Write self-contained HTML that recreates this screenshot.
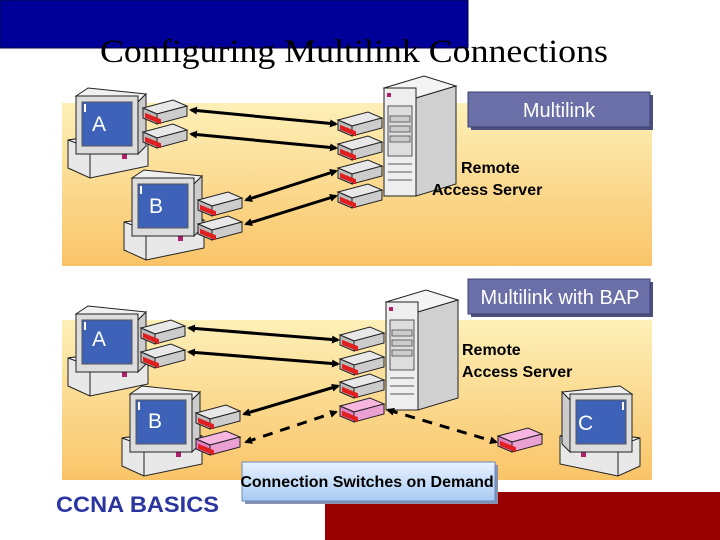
<!DOCTYPE html>
<html><head><meta charset="utf-8"><style>
html,body{margin:0;padding:0;background:#fff;width:720px;height:540px;overflow:hidden}
svg{display:block}
</style></head><body>
<svg width="720" height="540" viewBox="0 0 720 540" xmlns="http://www.w3.org/2000/svg" font-family="Liberation Sans, sans-serif">
<defs>
<linearGradient id="pg" x1="0" y1="0" x2="0" y2="1">
<stop offset="0" stop-color="#fdf0b8"/><stop offset="1" stop-color="#f9c468"/></linearGradient>
<linearGradient id="cb" x1="0" y1="0" x2="0" y2="1">
<stop offset="0" stop-color="#e8f2ff"/><stop offset="1" stop-color="#a8cbf3"/></linearGradient>
<g id="pc">
<!-- base -->
<polygon points="0,52 58,44 80,50 80,78 22,90 0,80" fill="#e8e8e8" stroke="#222" stroke-width="1"/>
<polygon points="0,52 58,44 80,50 22,60" fill="#f6f6f6" stroke="#222" stroke-width="1"/>
<line x1="22" y1="60" x2="22" y2="90" stroke="#222"/>
<rect x="54" y="66" width="5" height="5" fill="#b0206a"/>
<!-- monitor -->
<polygon points="8,8 20,0 78,6 70,14" fill="#f0f0f0" stroke="#222"/>
<polygon points="70,14 78,6 78,58 70,66" fill="#ccc" stroke="#222"/>
<rect x="8" y="8" width="62" height="58" fill="#ddd" stroke="#222"/>
<rect x="14" y="14" width="50" height="44" fill="#3d62b8" stroke="#555"/>
<rect x="16" y="16" width="2" height="8" fill="#fff"/>
</g>
<g id="md">
<polygon points="0,8 30,0 44,6 14,14" fill="#e8e8e8" stroke="#222"/>
<polygon points="0,8 14,14 14,24 0,18" fill="#bbb" stroke="#222"/>
<polygon points="14,14 44,6 44,16 14,24" fill="#ccc" stroke="#222"/>
<rect x="2" y="12" width="16" height="5" fill="#e02020" transform="skewY(22)" />
</g>
<g id="mdp">
<polygon points="0,8 30,0 44,6 14,14" fill="#f6b6e0" stroke="#222"/>
<polygon points="0,8 14,14 14,24 0,18" fill="#e080c0" stroke="#222"/>
<polygon points="14,14 44,6 44,16 14,24" fill="#eaa0d2" stroke="#222"/>
<rect x="2" y="12" width="16" height="5" fill="#e02020" transform="skewY(22)"/>
</g>
<g id="srv">
<polygon points="0,12 40,0 72,10 32,22" fill="#f4f4f4" stroke="#222"/>
<polygon points="32,22 72,10 72,108 32,120" fill="#d0d0d0" stroke="#222"/>
<rect x="0" y="12" width="32" height="108" fill="#eee" stroke="#222"/>
<rect x="4" y="30" width="24" height="50" fill="#ddd" stroke="#555"/>
<rect x="6" y="40" width="20" height="6" fill="#ccc" stroke="#666"/>
<rect x="6" y="50" width="20" height="6" fill="#ccc" stroke="#666"/>
<rect x="6" y="60" width="20" height="6" fill="#ccc" stroke="#666"/>
<line x1="4" y1="88" x2="28" y2="88" stroke="#555"/>
<line x1="4" y1="96" x2="28" y2="96" stroke="#555"/>
<line x1="4" y1="104" x2="28" y2="104" stroke="#555"/>
<rect x="3" y="17" width="4" height="4" fill="#b0206a"/>
</g>
<marker id="ah" markerWidth="8" markerHeight="8" refX="6" refY="4" orient="auto-start-reverse" markerUnits="userSpaceOnUse">
<path d="M0,0 L8,4 L0,8 z" fill="#000"/></marker>
</defs>

<rect x="0" y="0" width="468" height="48" fill="#000099" stroke="#000044"/>
<text x="354" y="62" text-anchor="middle" font-family="Liberation Serif, serif" font-size="33" fill="#000" textLength="508" lengthAdjust="spacingAndGlyphs">Configuring Multilink Connections</text>

<!-- panels -->
<rect x="62" y="103" width="590" height="163" fill="url(#pg)"/>
<rect x="62" y="320" width="590" height="160" fill="url(#pg)"/>

<!-- top diagram -->
<use href="#pc" x="68" y="88"/>
<text x="92" y="131" font-size="21" fill="#fff">A</text>
<use href="#md" x="143" y="100"/>
<use href="#md" x="143" y="124"/>
<use href="#pc" x="124" y="170"/>
<text x="149" y="213" font-size="21" fill="#fff">B</text>
<use href="#md" x="198" y="192"/>
<use href="#md" x="198" y="216"/>
<use href="#srv" x="384" y="76"/>
<use href="#md" x="338" y="112"/>
<use href="#md" x="338" y="136"/>
<use href="#md" x="338" y="160"/>
<use href="#md" x="338" y="184"/>
<g stroke="#000" stroke-width="3">
<line x1="191" y1="110" x2="336" y2="124" marker-start="url(#ah)" marker-end="url(#ah)"/>
<line x1="191" y1="134" x2="336" y2="148" marker-start="url(#ah)" marker-end="url(#ah)"/>
<line x1="246" y1="200" x2="336" y2="171" marker-start="url(#ah)" marker-end="url(#ah)"/>
<line x1="246" y1="224" x2="336" y2="196" marker-start="url(#ah)" marker-end="url(#ah)"/>
</g>
<rect x="471" y="95" width="182" height="35" fill="#4a4f80"/>
<rect x="468" y="92" width="182" height="35" fill="#6a6fa8" stroke="#3c4070"/>
<text x="559" y="117" text-anchor="middle" font-size="20" fill="#fff">Multilink</text>
<text x="461" y="173" font-size="16" font-weight="bold" fill="#000">Remote</text>
<text x="432" y="195" font-size="16" font-weight="bold" fill="#000">Access Server</text>

<!-- bottom diagram -->
<use href="#pc" x="68" y="306"/>
<text x="92" y="346" font-size="21" fill="#fff">A</text>
<use href="#md" x="141" y="320"/>
<use href="#md" x="141" y="344"/>
<use href="#pc" x="122" y="386"/>
<text x="148" y="428" font-size="21" fill="#fff">B</text>
<use href="#md" x="196" y="405"/>
<use href="#mdp" x="196" y="431"/>
<use href="#srv" x="386" y="290"/>
<use href="#md" x="340" y="327"/>
<use href="#md" x="340" y="351"/>
<use href="#md" x="340" y="374"/>
<use href="#mdp" x="340" y="398"/>
<g transform="translate(640,386) scale(-1,1)"><use href="#pc" x="0" y="0"/></g>
<text x="578" y="430" font-size="21" fill="#fff">C</text>
<use href="#mdp" x="498" y="428"/>
<g stroke="#000" stroke-width="3">
<line x1="189" y1="328" x2="338" y2="340" marker-start="url(#ah)" marker-end="url(#ah)"/>
<line x1="189" y1="352" x2="338" y2="364" marker-start="url(#ah)" marker-end="url(#ah)"/>
<line x1="244" y1="414" x2="338" y2="386" marker-start="url(#ah)" marker-end="url(#ah)"/>
<line x1="246" y1="442" x2="336" y2="412" stroke-dasharray="10,8" marker-start="url(#ah)" marker-end="url(#ah)"/>
<line x1="388" y1="410" x2="496" y2="442" stroke-dasharray="10,8" marker-start="url(#ah)" marker-end="url(#ah)"/>
</g>
<rect x="471" y="282" width="182" height="35" fill="#4a4f80"/>
<rect x="468" y="279" width="182" height="35" fill="#6a6fa8" stroke="#3c4070"/>
<text x="560" y="304" text-anchor="middle" font-size="20" fill="#fff">Multilink with BAP</text>
<text x="462" y="355" font-size="16" font-weight="bold" fill="#000">Remote</text>
<text x="462" y="377" font-size="16" font-weight="bold" fill="#000">Access Server</text>

<!-- bottom bar -->
<rect x="325" y="492" width="395" height="48" fill="#990000"/>
<rect x="245" y="465" width="253" height="39" fill="#8890b0"/>
<rect x="242" y="462" width="253" height="39" fill="url(#cb)" stroke="#6688bb"/>
<text x="367" y="487" text-anchor="middle" font-size="16" font-weight="bold" fill="#000">Connection Switches on Demand</text>
<text x="56" y="512" font-size="22" font-weight="bold" fill="#2a35a0" textLength="163" lengthAdjust="spacingAndGlyphs">CCNA BASICS</text>
</svg>
</body></html>
